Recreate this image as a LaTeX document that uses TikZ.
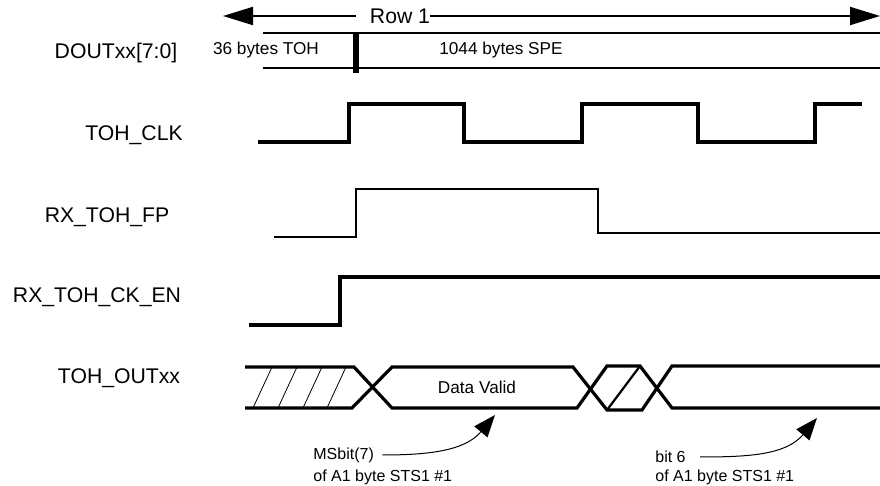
\documentclass[tikz,border=0pt]{standalone}
\usepackage{fontspec}
\setmainfont{Liberation Sans}
\usepackage{xcolor}
\usepackage{tikz}
\usetikzlibrary{arrows.meta,positioning}

\tikzset{
    sig/.style={line width=1.6pt},
    thinsig/.style={line width=1.1pt},
    bus/.style={line width=1pt},
    hatch/.style={line width=0.4pt},
    lbl/.style={font=\fontsize{10.6}{12}\selectfont, inner sep=0pt},
    small/.style={font=\fontsize{8.6}{10}\selectfont, inner sep=0pt},
    anno/.style={font=\fontsize{8}{10}\selectfont, inner sep=0pt, anchor=west},
    pointer/.style={line width=0.5pt, -{Triangle[length=11pt,width=8.5pt]}},
    rowarrow/.style={bus, -{Triangle[length=15pt,width=9pt]}},
}

\begin{document}
\begin{tikzpicture}[x=0.5pt, y=-0.5pt]
                \useasboundingbox (0,0) rectangle (880,486);

                % signal names
                \node[lbl] (dout) at (116,53) {DOUTxx[7:0]};
                \node[lbl] (clk) at (134,135) {TOH\_CLK};
                \node[lbl] (fp) at (107,217) {RX\_TOH\_FP};
                \node[lbl] (cken) at (97,297) {RX\_TOH\_CK\_EN};
                \node[lbl] (out) at (119,378) {TOH\_OUTxx};

                % row marker
                \node[lbl] (row) at (400,16) {Row 1};
                \coordinate (rowl) at (223,16);
                \coordinate (rowr) at (880,16);
                \draw[rowarrow] ([xshift=-7pt]row.west) -- (rowl);
                \draw[rowarrow] (row.east) -- (rowr);

                % DOUTxx bus
                \draw[bus] (263,33) -- (880,33);
                \draw[bus] (263,68) -- (880,68);
                \draw[
                    line width=3pt
                    ] (356,33) -- (356,73);
                \node[small] (toh) at (266,50) {36 bytes TOH};
                \node[small] (spe) at (501,50) {1044 bytes SPE};

                % TOH_CLK
                \draw[sig] (258,142) -| (349,104) -| (464,142) -| (582,104)
                    -| (698,142) -| (815,104) -- (862,104);

                % RX_TOH_FP
                \draw[thinsig] (274,237) -| (356,189) -| (598,233) -- (880,233);

                % RX_TOH_CK_EN
                \draw[sig] (249,325) -| (340,277) -- (880,277);

                % TOH_OUTxx
                \draw[
                    sig,
                    line join=miter
                    ] (245,367) -- (354,367) -- (392,408) -- (577,408) -- (607,366)
                    -- (640,366) -- (672,408) -- (880,408);
                \draw[
                    sig,
                    line join=miter
                    ] (245,408) -- (352,408) -- (392,367) -- (573,367) -- (607,410)
                    -- (642,410) -- (672,366) -- (880,366);
                \draw[thinsig] (607,410) -- (640,366);
                \foreach \x in {253,278,303,327}
                    \draw[hatch] (\x,408) -- (\x+19,367);
                \node[small] (valid) at (477,387) {Data Valid};

                % pointers
                \node[anno] (ms) at (313,455) {MSbit(7)};
                \node[anno] (msof) at (313,477) {of A1 byte STS1 \#1};
                \coordinate (msbit) at (495,415);
                \draw[pointer] ([xshift=4pt]ms.east) to[out=0, in=-130] (msbit);

                \node[anno] (b6) at (655,457) {bit 6};
                \node[anno] (b6of) at (655,477) {of A1 byte STS1 \#1};
                \coordinate (bitsix) at (817,418);
                \draw[pointer] ([xshift=7pt]b6.east) to[out=0, in=-130] (bitsix);

\end{tikzpicture}
\end{document}
